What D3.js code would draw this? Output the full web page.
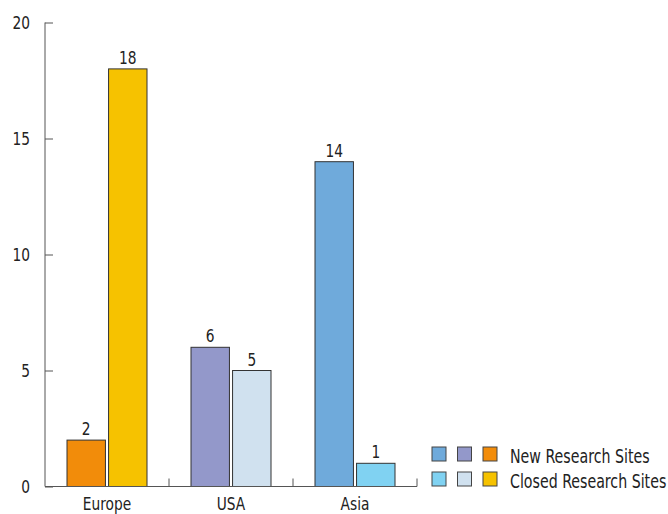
<!DOCTYPE html>
<html><head><meta charset="utf-8">
<script src="https://cdn.jsdelivr.net/npm/d3@7"></script>
<style>body{margin:0;background:#fff;} text{font-family:"DejaVu Sans Condensed","DejaVu Sans",sans-serif;}</style>
</head><body>
<svg id="c" width="668" height="514"></svg>
<script>
const categories = ["Europe", "USA", "Asia"];
const newSites = [2, 6, 14];
const closedSites = [18, 5, 1];
const newColors = ["#F28C0A", "#9398CA", "#6FAADB"];
const closedColors = ["#F6C200", "#D0E1EF", "#80D2F2"];
const yTicks = [0, 5, 10, 15, 20];
const legendLabels = ["New Research Sites", "Closed Research Sites"];

const svg = d3.select("#c");
const x = d3.scaleBand().domain(categories).range([45, 417]).paddingInner(0).paddingOuter(0);
const inner = d3.scaleBand().domain(["new","closed"]).range([22, 102]).paddingInner(0.075);
const y = d3.scaleLinear().domain([0, 20]).range([486.5, 22.5]);

// compress text horizontally to mimic the condensed face
function condense(sel, factor){
  sel.each(function(){
    const w = this.getComputedTextLength();
    d3.select(this).attr("textLength", w*factor).attr("lengthAdjust","spacingAndGlyphs");
  });
}

// y axis
const yAxis = svg.append("g").attr("transform","translate(45,0)")
  .call(d3.axisRight(y).tickValues(yTicks).tickSize(8).tickFormat(""));
yAxis.select(".domain").attr("stroke","#555").attr("d",`M0,${y(0)}V${y(20)}`);
yAxis.selectAll(".tick line").attr("stroke","#555");
const yl = svg.append("g").selectAll("text").data(yTicks).enter().append("text")
  .attr("x", 30).attr("y", d=>y(d)).attr("dy","0.36em")
  .attr("text-anchor","end").attr("font-size",18).attr("fill","#222").text(d=>d);
condense(yl, 0.85);

const groups = categories.map((c,i)=>({c, i, vals:[{k:"new", v:newSites[i], col:newColors[i]},{k:"closed", v:closedSites[i], col:closedColors[i]}]}));
const g = svg.selectAll("g.cat").data(groups).enter().append("g").attr("class","cat")
  .attr("transform", d=>`translate(${x(d.c)},0)`);
g.selectAll("rect").data(d=>d.vals).enter().append("rect")
  .attr("x", d=>inner(d.k)).attr("width", inner.bandwidth())
  .attr("y", d=>y(d.v)).attr("height", d=>y(0)-y(d.v))
  .attr("fill", d=>d.col).attr("stroke","#333").attr("stroke-width",1);
const vl = g.selectAll("text.v").data(d=>d.vals).enter().append("text").attr("class","v")
  .attr("x", d=>inner(d.k)+inner.bandwidth()/2).attr("y", d=>y(d.v)-5)
  .attr("text-anchor","middle").attr("font-size",18).attr("fill","#222").text(d=>d.v);
condense(vl, 0.85);

// x axis
const xAxisG = svg.append("g");
xAxisG.append("line").attr("x1",45).attr("x2",417).attr("y1",y(0)).attr("y2",y(0)).attr("stroke","#555");
categories.forEach((c,i)=>{
  const xe = x(c)+x.bandwidth();
  xAxisG.append("line").attr("x1",xe).attr("x2",xe).attr("y1",y(0)).attr("y2",y(0)-8).attr("stroke","#555");
});
const cl = svg.append("g").selectAll("text").data(categories).enter().append("text")
  .attr("x", d=>x(d)+x.bandwidth()/2).attr("y", 510)
  .attr("text-anchor","middle").attr("font-size",18).attr("fill","#222").text(d=>d);
condense(cl, 0.85);

// legend
const leg = svg.append("g");
const legendRows = [newColors.slice().reverse(), closedColors.slice().reverse()];
legendRows.forEach((cols, r)=>{
  cols.forEach((col, j)=>{
    leg.append("rect").attr("x", 432 + j*25.5).attr("y", 447 + r*25).attr("width",14).attr("height",14)
      .attr("fill", col).attr("stroke","#444");
  });
  const t = leg.append("text").attr("x",510).attr("y",462.5+r*25)
    .attr("font-size",19).attr("fill","#222").text(legendLabels[r]);
  condense(t, 0.83);
});
</script>
</body></html>
